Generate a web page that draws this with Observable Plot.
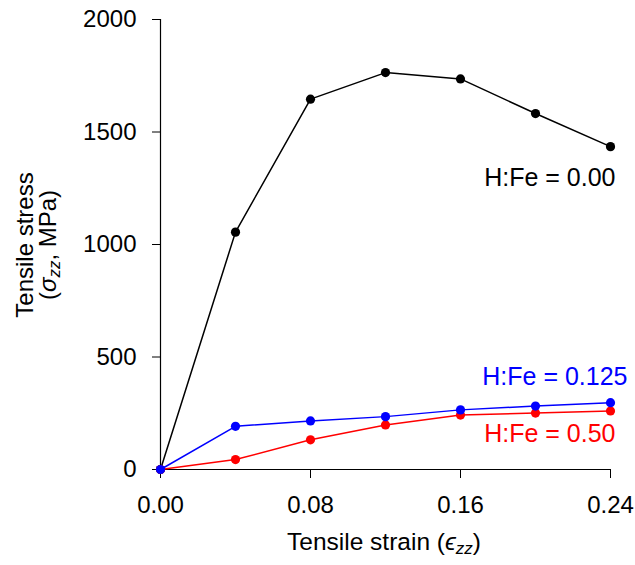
<!DOCTYPE html>
<html>
<head>
<meta charset="utf-8">
<script src="https://cdn.jsdelivr.net/npm/d3@7"></script>
<script src="https://cdn.jsdelivr.net/npm/@observablehq/plot@0.6"></script>
<style>
  html, body { margin: 0; padding: 0; background: #fff; }
</style>
</head>
<body>
<div id="chart"></div>
<script>
// ---- data ----
const strain = [0, 0.04, 0.08, 0.12, 0.16, 0.20, 0.24];
const stressHFe000 = [0, 1055, 1646, 1764, 1736, 1582, 1435];
const stressHFe0125 = [0, 192, 216, 235, 265, 282, 297];
const stressHFe050 = [0, 44, 132, 198, 242, 251, 260];
const seriesNames = ["H:Fe = 0.00", "H:Fe = 0.125", "H:Fe = 0.50"];
const xTicks = [0, 0.08, 0.16, 0.24];
const yTicks = [0, 500, 1000, 1500, 2000];

const toRows = (vals, name) => strain.map((s, i) => ({x: s, y: vals[i], series: name}));
const black = toRows(stressHFe000, seriesNames[0]);
const blue = toRows(stressHFe0125, seriesNames[1]);
const red = toRows(stressHFe050, seriesNames[2]);
const last = (rows) => [rows[rows.length - 1]];

const FONT = "'Liberation Sans', Arial, sans-serif";

const svg = Plot.plot({
  width: 635,
  height: 565,
  marginLeft: 160,
  marginRight: 25,
  marginTop: 19,
  marginBottom: 96,
  style: {fontFamily: FONT, fontSize: "24px", color: "black", background: "white"},
  x: {domain: [0, 0.24], ticks: xTicks, tickFormat: d3.format(".2f"), tickSize: 9, tickPadding: 17, label: null},
  y: {domain: [0, 2000], ticks: yTicks, tickFormat: d3.format("d"), tickSize: 8, tickPadding: 16, label: null},
  marks: [
    Plot.ruleX([0], {stroke: "black", strokeWidth: 1.2}),
    Plot.ruleY([0], {stroke: "black", strokeWidth: 1.2}),
    Plot.line(black, {x: "x", y: "y", stroke: "black", strokeWidth: 1.5}),
    Plot.dot(black, {x: "x", y: "y", fill: "black", r: 4.6}),
    Plot.line(red, {x: "x", y: "y", stroke: "red", strokeWidth: 1.5}),
    Plot.dot(red, {x: "x", y: "y", fill: "red", r: 4.6}),
    Plot.line(blue, {x: "x", y: "y", stroke: "blue", strokeWidth: 1.5}),
    Plot.dot(blue, {x: "x", y: "y", fill: "blue", r: 4.6}),
    Plot.text(last(black), {x: "x", y: "y", text: "series", fill: "black", textAnchor: "end", dx: 5, dy: 31, fontSize: 25}),
    Plot.text(last(blue), {x: "x", y: "y", text: "series", fill: "blue", textAnchor: "end", dx: 17, dy: -25.5, fontSize: 25}),
    Plot.text(last(red), {x: "x", y: "y", text: "series", fill: "red", textAnchor: "end", dx: 5, dy: 23, fontSize: 25})
  ]
});

document.getElementById("chart").appendChild(svg);

// axis titles with subscripts
const s = d3.select(svg);
const xl = s.append("text")
  .attr("x", 384).attr("y", 550)
  .attr("text-anchor", "middle")
  .attr("font-family", FONT).attr("font-size", 24.5).attr("fill", "black");
xl.append("tspan").text("Tensile strain (");
xl.append("tspan").attr("font-style", "italic").text("\u03F5");
xl.append("tspan").attr("font-style", "italic").attr("font-size", 17).attr("dy", 4).text("zz");
xl.append("tspan").attr("dy", -4).text(")");

const yg = s.append("g").attr("transform", "translate(33,245) rotate(-90)")
  .attr("font-family", FONT).attr("font-size", 24).attr("fill", "black");
yg.append("text").attr("text-anchor", "middle").attr("y", 0).text("Tensile stress");
const yl2 = yg.append("text").attr("text-anchor", "middle").attr("y", 23);
yl2.append("tspan").text("(");
yl2.append("tspan").attr("font-style", "italic").text("\u03C3");
yl2.append("tspan").attr("font-style", "italic").attr("font-size", 17).attr("dy", 4).text("zz");
yl2.append("tspan").attr("dy", -4).text(", MPa)");
</script>
</body>
</html>
